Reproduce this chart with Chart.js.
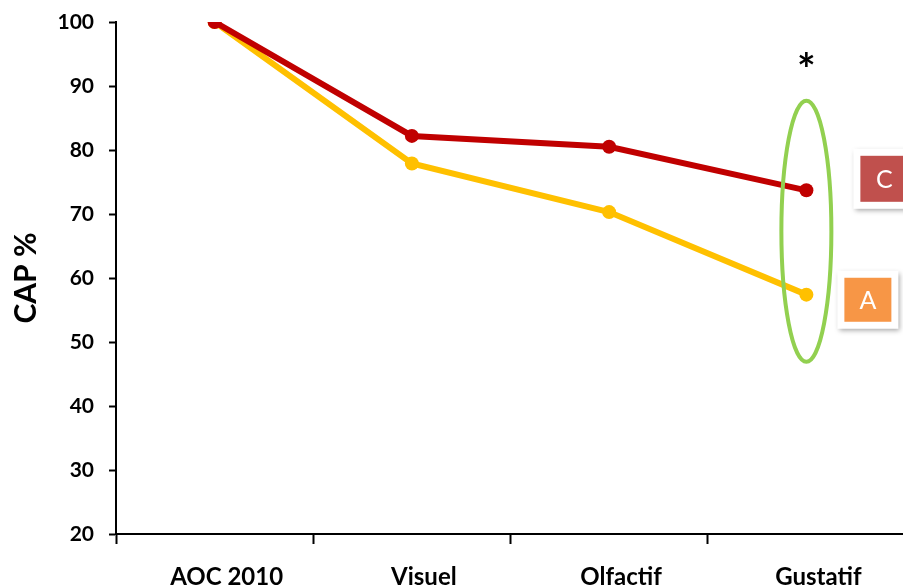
<!DOCTYPE html>
<html>
<head>
<meta charset="utf-8">
<script src="https://cdn.jsdelivr.net/npm/chart.js@4"></script>
<style>
  html, body { margin: 0; padding: 0; background: #fff; overflow: hidden; }
  #wrap { width: 903px; height: 585px; overflow: hidden; }
</style>
</head>
<body>
<div id="wrap"><canvas id="cap" width="912" height="585"></canvas></div>
<script>
// categories and CAP percentages per group
const stages = ['AOC 2010', 'Visuel', 'Olfactif', 'Gustatif'];
const groupC = [100, 82.2, 80.5, 73.7];
const groupA = [100, 77.9, 70.3, 57.4];
const yTicks = [20, 30, 40, 50, 60, 70, 80, 90, 100];

const FONT = 'Lato, "Open Sans", sans-serif';

// significance ellipse + star, and the group tags on the right
const markers = {
    id: 'markers',
    afterDatasetsDraw(chart) {
        const ctx = chart.ctx;
        const x = chart.scales.x, y = chart.scales.y;
        const cx = x.getPixelForValue(3);
        const top = y.getPixelForValue(87.7), bottom = y.getPixelForValue(46.9);

        ctx.save();
        ctx.strokeStyle = '#92D050';
        ctx.lineWidth = 4;
        ctx.beginPath();
        ctx.ellipse(cx, (top + bottom) / 2, 25, (bottom - top) / 2, 0, 0, Math.PI * 2);
        ctx.stroke();

        ctx.fillStyle = '#000';
        ctx.font = 'bold 44px ' + FONT;
        ctx.textAlign = 'center';
        ctx.textBaseline = 'middle';
        ctx.fillText('*', cx, y.getPixelForValue(92.3));

        const tag = (label, fill, value, dx, w, h) => {
            const left = cx + dx, mid = y.getPixelForValue(value);
            ctx.save();
            ctx.shadowColor = 'rgba(0,0,0,0.35)';
            ctx.shadowBlur = 5;
            ctx.shadowOffsetX = 2;
            ctx.shadowOffsetY = 2;
            ctx.fillStyle = '#fff';
            ctx.fillRect(left, mid - h / 2, w, h);
            ctx.restore();
            ctx.fillStyle = fill;
            ctx.fillRect(left + 7, mid - h / 2 + 7, w - 14, h - 14);
            ctx.fillStyle = '#fff';
            ctx.font = '25px ' + FONT;
            ctx.fillText(label, left + w / 2, mid + 1);
        };
        tag('C', '#C0504D', 75.5, 47, 62, 60);
        tag('A', '#F79646', 56.6, 31, 61, 58);
        ctx.restore();
    }
};

new Chart(document.getElementById('cap'), {
    type: 'line',
    data: {
        labels: stages,
        datasets: [
            {
                label: 'A',
                data: groupA,
                borderColor: '#FFC000',
                backgroundColor: '#FFC000',
                borderWidth: 6,
                pointRadius: 7,
                pointBorderWidth: 0,
                order: 2
            },
            {
                label: 'C',
                data: groupC,
                borderColor: '#C00000',
                backgroundColor: '#C00000',
                borderWidth: 6,
                pointRadius: 7,
                pointBorderWidth: 0,
                order: 1
            }
        ]
    },
    options: {
        responsive: false,
        animation: false,
        layout: { padding: { top: 22, right: 0, left: 0, bottom: 0 } },
        plugins: {
            legend: { display: false },
            tooltip: { enabled: false }
        },
        scales: {
            x: {
                offset: true,
                grid: {
                    offset: true,
                    drawOnChartArea: false,
                    drawTicks: true,
                    tickLength: 10,
                    tickWidth: 2,
                    color: '#000'
                },
                border: { display: true, color: '#000', width: 2 },
                ticks: {
                    color: '#000',
                    font: { family: FONT, size: 24, weight: 'bold' },
                    padding: 19,
                    labelOffset: 12,
                    maxRotation: 0
                },
                afterFit(scale) {
                    scale.height = 51;
                    scale.paddingLeft = 0;
                    scale.paddingRight = 0;
                }
            },
            y: {
                min: 20,
                max: 100,
                afterBuildTicks(scale) { scale.ticks = yTicks.map(v => ({ value: v })); },
                grid: {
                    drawOnChartArea: false,
                    drawTicks: true,
                    tickLength: 7,
                    tickWidth: 2,
                    color: '#000'
                },
                border: { display: true, color: '#000', width: 2 },
                ticks: {
                    color: '#000',
                    font: { family: FONT, size: 21, weight: 'bold' },
                    padding: 15
                },
                title: {
                    display: true,
                    text: 'CAP %',
                    color: '#000',
                    font: { family: FONT, size: 30, weight: 'bold' },
                    padding: { top: 8, bottom: 0 }
                },
                afterFit(scale) {
                    scale.width = 116;
                    scale.paddingTop = 0;
                    scale.paddingBottom = 0;
                }
            }
        }
    },
    plugins: [markers]
});
</script>
</body>
</html>
